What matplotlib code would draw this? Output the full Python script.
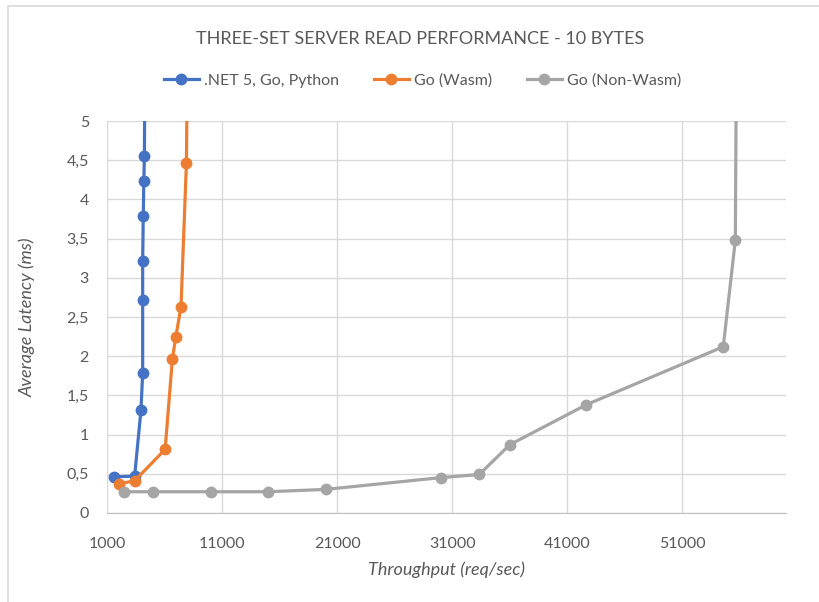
import matplotlib.pyplot as plt
from matplotlib.patches import Rectangle
from matplotlib.ticker import FuncFormatter

# series
net_x = [1600, 3400, 3950, 4100, 4100, 4100, 4150, 4200, 4250, 4300]
net_y = [0.46, 0.47, 1.31, 1.79, 2.72, 3.22, 3.79, 4.24, 4.55, 6.0]

wasm_x = [2000, 3400, 6050, 6680, 6970, 7430, 7900, 8000]
wasm_y = [0.37, 0.41, 0.81, 1.96, 2.24, 2.63, 4.46, 6.0]

native_x = [2500, 5000, 10000, 15000, 20000, 30000, 33350, 36000, 42650, 54550, 55600, 55700]
native_y = [0.27, 0.27, 0.27, 0.27, 0.30, 0.45, 0.49, 0.87, 1.38, 2.12, 3.48, 6.0]

x_ticks = [1000, 11000, 21000, 31000, 41000, 51000]
y_ticks = [0, 0.5, 1, 1.5, 2, 2.5, 3, 3.5, 4, 4.5, 5]

plt.rcParams['font.family'] = ['Lato', 'DejaVu Sans']

fig = plt.figure(figsize=(8.2, 6.02), dpi=100)
ax = fig.add_axes([0.1305, 0.148, 0.828, 0.651])

# chart area border (runs off the right and bottom of the image)
fig.patches.append(Rectangle((0.0095, -0.05), 1.1, 1.04, transform=fig.transFigure,
                             fill=False, edgecolor="#d9d9d9", linewidth=1.2))

ax.plot(net_x, net_y, color="#4472C4", marker="o", markersize=7.5, linewidth=2.3,
        label=".NET 5, Go, Python", zorder=3)
ax.plot(wasm_x, wasm_y, color="#ED7D31", marker="o", markersize=7.5, linewidth=2.3,
        label="Go (Wasm)", zorder=3)
ax.plot(native_x, native_y, color="#A5A5A5", marker="o", markersize=7.5, linewidth=2.3,
        label="Go (Non-Wasm)", zorder=3)

ax.set_xlim(1000, 60000)
ax.set_ylim(0, 5)
ax.set_xticks(x_ticks)
ax.set_yticks(y_ticks)
ax.yaxis.set_major_formatter(FuncFormatter(lambda v, p: ("%g" % v).replace(".", ",")))

ax.grid(True, color="#d9d9d9", linewidth=1)
ax.set_axisbelow(True)
for s in ["top", "right", "left"]:
    ax.spines[s].set_visible(False)
ax.spines["bottom"].set_color("#bfbfbf")
ax.tick_params(axis="x", length=0, labelsize=11.5, labelcolor="#595959", pad=17)
ax.tick_params(axis="y", length=0, labelsize=11.5, labelcolor="#595959", pad=13)

ax.set_xlabel("Throughput (req/sec)", fontsize=13, style="italic", color="#595959", labelpad=8)
ax.set_ylabel("Average Latency (ms)", fontsize=13, style="italic", color="#595959", labelpad=22)

fig.text(0.512, 0.935, "THREE-SET SERVER READ PERFORMANCE - 10 BYTES", ha="center", va="center",
         fontsize=13, color="#595959")
fig.legend(loc="center", bbox_to_anchor=(0.515, 0.866), ncol=3, frameon=False, fontsize=11.5,
           labelcolor="#595959", handlelength=2.2, columnspacing=2.2, handletextpad=0.3)

fig.savefig("out.png", dpi=100)
